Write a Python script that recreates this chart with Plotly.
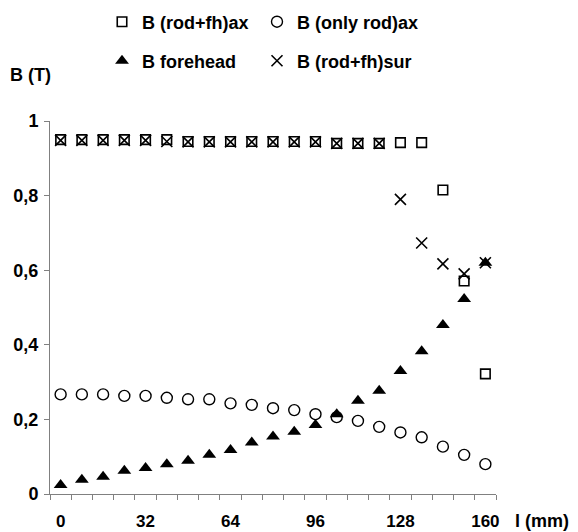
import plotly.graph_objects as go

# Data
l_mm = [0, 8, 16, 24, 32, 40, 48, 56, 64, 72, 80, 88, 96, 104, 112, 120, 128, 136, 144, 152, 160]
b_rodfh_ax = [0.950, 0.950, 0.950, 0.950, 0.950, 0.950, 0.945, 0.945, 0.945, 0.945, 0.945, 0.945,
              0.945, 0.940, 0.940, 0.940, 0.942, 0.942, 0.815, 0.571, 0.322]
b_onlyrod_ax = [0.267, 0.267, 0.267, 0.263, 0.263, 0.258, 0.254, 0.254, 0.243, 0.239, 0.230, 0.225,
                0.214, 0.206, 0.196, 0.180, 0.165, 0.152, 0.127, 0.105, 0.080]
b_forehead = [0.024, 0.038, 0.046, 0.062, 0.070, 0.080, 0.089, 0.105, 0.118, 0.138, 0.154, 0.167,
              0.185, 0.214, 0.250, 0.277, 0.330, 0.383, 0.453, 0.523, 0.620]
b_rodfh_sur = [0.948, 0.948, 0.948, 0.948, 0.948, 0.945, 0.944, 0.944, 0.944, 0.944, 0.944, 0.944,
               0.944, 0.940, 0.940, 0.940, 0.790, 0.673, 0.617, 0.590, 0.620]
x_tick_vals = [0, 32, 64, 96, 128, 160]
x_tick_labels = ["0", "32", "64", "96", "128", "160"]
y_tick_vals = [0, 0.2, 0.4, 0.6, 0.8, 1.0]
y_tick_labels = ["0", "0,2", "0,4", "0,6", "0,8", "1"]

FONT = "Liberation Sans"
AX = "#808080"
BF = dict(family=FONT, size=18, color="black", weight="bold")
TF = dict(family=FONT, size=17, color="black", weight="bold")


def b(s):
    return "<b>" + s + "</b>"


fig = go.Figure()
fig.add_trace(go.Scatter(x=l_mm, y=b_rodfh_ax, mode="markers", name=b("B (rod+fh)ax"),
                         marker=dict(symbol="square-open", size=9.5, color="black", line=dict(width=1.6)),
                         legend="legend"))
fig.add_trace(go.Scatter(x=l_mm, y=b_onlyrod_ax, mode="markers", name=b("B (only rod)ax"),
                         marker=dict(symbol="circle-open", size=11, color="black", line=dict(width=1.4)),
                         legend="legend", legendwidth=140))
fig.add_trace(go.Scatter(x=l_mm, y=b_forehead, mode="markers", name=b("B forehead"),
                         marker=dict(symbol="triangle-up", size=12, color="black"),
                         legend="legend2"))
fig.add_trace(go.Scatter(x=l_mm, y=b_rodfh_sur, mode="markers", name=b("B (rod+fh)sur"),
                         marker=dict(symbol="x-thin-open", size=11, color="black", line=dict(width=1.6)),
                         legend="legend2", legendwidth=140))

leg_common = dict(orientation="h", xref="container", yref="container", xanchor="left", yanchor="middle",
                  font=BF, entrywidth=110, itemwidth=30, bgcolor="rgba(0,0,0,0)")

fig.update_layout(
    width=578, height=532,
    margin=dict(l=50, r=82, t=121, b=38),
    paper_bgcolor="white", plot_bgcolor="white",
    font=BF,
    showlegend=True,
    legend=dict(**leg_common, x=102 / 578, y=1 - 22 / 532),
    legend2=dict(**leg_common, x=102 / 578, y=1 - 61 / 532),
    xaxis=dict(
        range=[-4, 164], showgrid=False, zeroline=False, automargin=False,
        showline=True, linecolor=AX, linewidth=1,
        tickmode="array", tickvals=x_tick_vals, ticktext=[b(t) for t in x_tick_labels],
        ticks="", ticklabelstandoff=12, tickfont=TF,
        minor=dict(tick0=-4, dtick=8, ticks="outside", ticklen=5, tickcolor=AX, tickwidth=1, showgrid=False),
    ),
    yaxis=dict(
        range=[0, 1], showgrid=False, zeroline=False, automargin=False,
        showline=True, linecolor=AX, linewidth=1,
        tickmode="array", tickvals=y_tick_vals, ticktext=[b(t) for t in y_tick_labels],
        ticks="outside", ticklen=5, tickcolor=AX, tickwidth=1, ticklabelstandoff=2,
        tickfont=BF,
    ),
    annotations=[
        dict(text=b("B (T)"), xref="paper", yref="paper", x=-42 / 446, y=(494 - 75) / 373,
             xanchor="left", yanchor="middle", showarrow=False, font=BF),
        dict(text=b("l (mm)"), xref="paper", yref="paper", x=(513 - 50) / 446, y=-(521 - 494) / 373,
             xanchor="left", yanchor="middle", showarrow=False, font=BF),
    ],
)

fig.write_html("out.html", config={"displayModeBar": False},
               post_script="document.body.style.margin='0';")
